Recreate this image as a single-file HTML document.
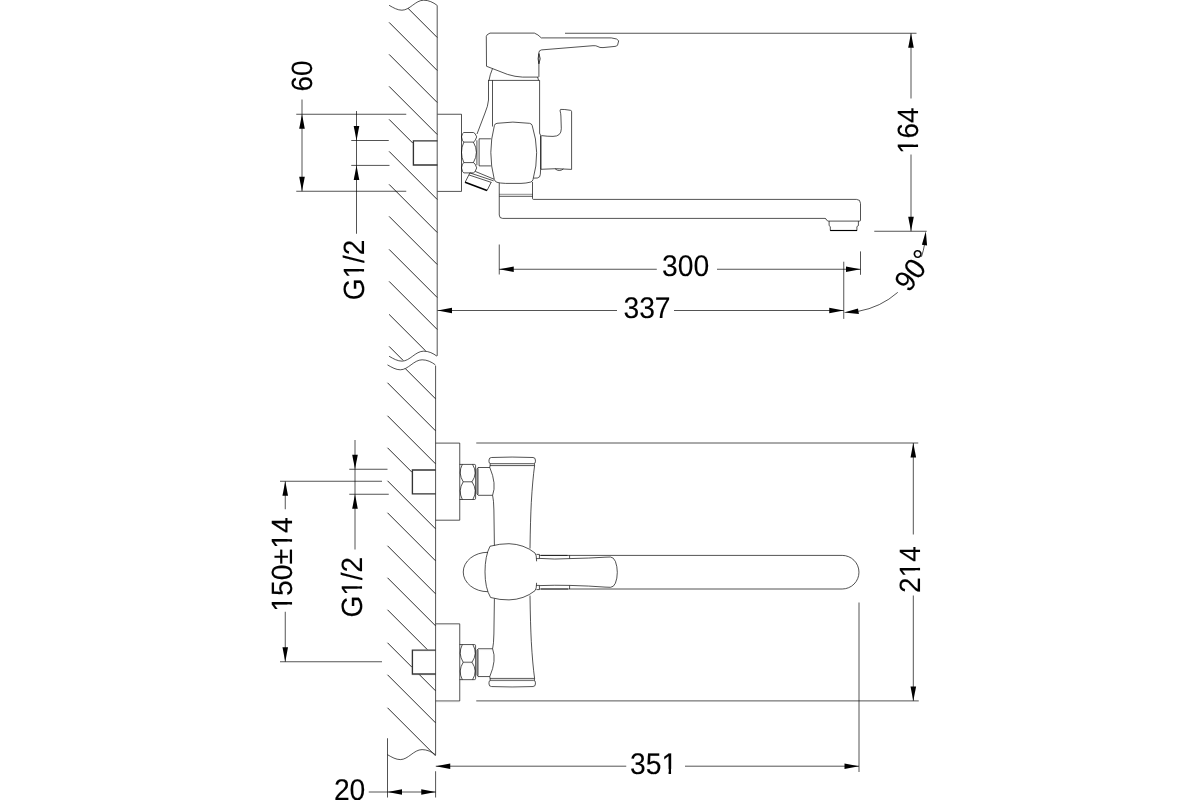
<!DOCTYPE html>
<html lang="en">
<head>
<meta charset="utf-8">
<title>Wall-mounted mixer tap – dimensional drawing</title>
<style>
html,body{margin:0;padding:0;background:#fff;}
body{width:1200px;height:800px;overflow:hidden;}
svg{display:block;}
.l,.l1,.l2,.l3,.h{fill:none;stroke:#000;stroke-width:.68;stroke-linecap:butt;stroke-linejoin:round;}
.h{stroke-width:.95;stroke:#222;}
.l1{stroke-width:.45;}
.l2{stroke-width:1.15;}
.st{fill:none;stroke:#333;stroke-width:1.35;stroke-linejoin:miter;}
.l3{stroke-width:1.6;}
.a{fill:#000;stroke:none;}
text{font-family:"Liberation Sans",sans-serif;font-size:28.7px;fill:#000;stroke:#000;stroke-width:.12px;text-rendering:geometricPrecision;}
.m{fill:#fff;stroke:none;}
</style>
</head>
<body>
<svg width="1200" height="800" viewBox="0 0 1200 800">
<rect width="1200" height="800" fill="#fff"/>
<g id="wall">
<path class="l" d="M389.1,5.3 c4.5,2.6 8.5,4.9 12.8,4.9 c8,0 13.5,-10 21.8,-10 c5,0 9.5,2.2 13.2,5"/>
<path class="l" d="M389.1,356.25 c4.5,2.6 8.5,4.9 12.8,4.9 c8,0 13.5,-10 21.8,-10 c5,0 9.5,2.2 13.2,5"/>
<path class="l" d="M387.5,364.9 c4.5,2.6 8.5,4.9 12.8,4.9 c8,0 13.5,-10 21.8,-10 c5,0 9.5,2.2 13.2,5"/>
<path class="l" d="M387.5,754.7 c4.5,2.6 8.5,4.9 12.8,4.9 c8,0 13.5,-10 21.8,-10 c5,0 9.5,2.2 13.2,5"/>
<line class="l" x1="437.2" y1="5.3" x2="437.2" y2="355.9"/>
<line class="l" x1="435.6" y1="365.6" x2="435.6" y2="755"/>
<line class="l" x1="435.6" y1="771.25" x2="435.6" y2="797.5"/>
<line class="l" x1="387.5" y1="738.25" x2="387.5" y2="797.5"/>
</g>
<g id="hatch">
<line class="h" x1="407.8" y1="8.08" x2="437.2" y2="37.48"/>
<line class="h" x1="389.1" y1="22.38" x2="437.2" y2="70.48"/>
<line class="h" x1="389.1" y1="54.38" x2="437.2" y2="102.48"/>
<line class="h" x1="389.1" y1="86.38" x2="437.2" y2="134.48"/>
<line class="h" x1="389.1" y1="119.38" x2="412.8" y2="143.08"/>
<line class="h" x1="389.1" y1="151.38" x2="437.2" y2="199.48"/>
<line class="h" x1="389.1" y1="184.38" x2="437.2" y2="232.48"/>
<line class="h" x1="389.1" y1="216.38" x2="437.2" y2="264.48"/>
<line class="h" x1="389.1" y1="249.38" x2="437.2" y2="297.48"/>
<line class="h" x1="389.1" y1="281.38" x2="437.2" y2="329.48"/>
<line class="h" x1="389.1" y1="314.38" x2="425.75" y2="351.03"/>
<line class="h" x1="389.1" y1="346.38" x2="403.1" y2="360.38"/>
<line class="h" x1="405.3" y1="368.58" x2="435.6" y2="398.88"/>
<line class="h" x1="387.5" y1="382.78" x2="435.6" y2="430.88"/>
<line class="h" x1="387.5" y1="415.78" x2="435.6" y2="463.88"/>
<line class="h" x1="387.5" y1="447.78" x2="412" y2="472.28"/>
<line class="h" x1="387.5" y1="480.78" x2="435.6" y2="528.88"/>
<line class="h" x1="387.5" y1="512.78" x2="435.6" y2="560.88"/>
<line class="h" x1="387.5" y1="545.78" x2="435.6" y2="593.88"/>
<line class="h" x1="387.5" y1="577.78" x2="435.6" y2="625.88"/>
<line class="h" x1="387.5" y1="609.78" x2="427.25" y2="649.53"/>
<line class="h" x1="387.5" y1="642.78" x2="412" y2="667.28"/>
<line class="h" x1="419.05" y1="674.33" x2="435.6" y2="690.88"/>
<line class="h" x1="387.5" y1="674.78" x2="435.6" y2="722.88"/>
<line class="h" x1="387.5" y1="707.78" x2="435.6" y2="755.88"/>
</g>
<g id="dims" style="opacity:.999">
<line class="l" x1="296.25" y1="114.25" x2="406.25" y2="114.25"/>
<line class="l" x1="296.25" y1="191.25" x2="406.25" y2="191.25"/>
<line class="l" x1="302" y1="99.5" x2="302" y2="191.25"/>
<polygon class="a" points="302,114.25 299.2,128.75 304.8,128.75"/>
<polygon class="a" points="302,191.25 299.2,176.75 304.8,176.75"/>
<text text-anchor="middle" transform="translate(312.2 75.9) rotate(-90) scale(0.975 1.022)">60</text>
<line class="l" x1="351.25" y1="140.5" x2="388.75" y2="140.5"/>
<line class="l" x1="351.25" y1="165.4" x2="389.5" y2="165.4"/>
<line class="l" x1="356.5" y1="111" x2="356.5" y2="233.75"/>
<polygon class="a" points="356.5,140.5 353.7,126 359.3,126"/>
<polygon class="a" points="356.5,165.4 353.7,179.9 359.3,179.9"/>
<g transform="translate(363.5 270) rotate(-90) scale(0.975 1.022)"><text text-anchor="middle">G1/2</text><rect class="m" x="-7.95" y="-4.62" width="6.38" height="6.03"/><rect class="m" x="0.97" y="-4.62" width="5.94" height="6.03"/></g>
<line class="l" x1="565" y1="33.25" x2="916.5" y2="33.25"/>
<line class="l" x1="874.25" y1="231.25" x2="926.75" y2="231.25"/>
<line class="l" x1="911" y1="33.25" x2="911" y2="98.5"/>
<line class="l" x1="911" y1="154.5" x2="911" y2="231.25"/>
<polygon class="a" points="911,33.25 908.2,47.75 913.8,47.75"/>
<polygon class="a" points="911,231.25 908.2,216.75 913.8,216.75"/>
<g transform="translate(918.2 130.7) rotate(-90) scale(0.975 1.022)"><text text-anchor="middle">164</text><rect class="m" x="-23.10" y="-4.62" width="6.38" height="6.03"/><rect class="m" x="-14.19" y="-4.62" width="5.94" height="6.03"/></g>
<line class="l" x1="499.25" y1="244.5" x2="499.25" y2="274.5"/>
<line class="l" x1="860.5" y1="251.4" x2="860.5" y2="274.8"/>
<line class="l" x1="499.25" y1="269.25" x2="656.8" y2="269.25"/>
<line class="l" x1="717" y1="269.25" x2="860.5" y2="269.25"/>
<polygon class="a" points="499.25,269.25 513.75,266.45 513.75,272.05"/>
<polygon class="a" points="860.5,269.25 846,266.45 846,272.05"/>
<text text-anchor="middle" transform="translate(685.6 276.25) scale(0.985 1.042)">300</text>
<line class="l" x1="843.75" y1="261.7" x2="843.75" y2="318.9"/>
<line class="l" x1="437.5" y1="310.5" x2="617" y2="310.5"/>
<line class="l" x1="674" y1="310.5" x2="843.75" y2="310.5"/>
<polygon class="a" points="437.5,310.5 452,307.7 452,313.3"/>
<polygon class="a" points="843.75,310.5 829.25,307.7 829.25,313.3"/>
<text text-anchor="middle" transform="translate(647 317.5) scale(0.985 1.042)">337</text>
<path class="l" d="M924.69,243.60 A81.8,81.8 0 0 1 921.47,256.76"/>
<path class="l" d="M897.78,292.35 A81.8,81.8 0 0 1 858.10,311.36"/>
<polygon class="a" points="925.8,231.3 921.9,244.7 927.1,245.6"/>
<polygon class="a" points="843.9,312.5 858,308.6 858.9,314"/>
<text text-anchor="middle" transform="translate(921.5 276.3) rotate(-53.5) scale(0.975 1.022)">90°</text>
<line class="l" x1="349.25" y1="469.25" x2="387.5" y2="469.25"/>
<line class="l" x1="349.25" y1="494.25" x2="388.75" y2="494.25"/>
<line class="l" x1="355" y1="440" x2="355" y2="549.5"/>
<polygon class="a" points="355,469.25 352.2,454.75 357.8,454.75"/>
<polygon class="a" points="355,494.25 352.2,508.75 357.8,508.75"/>
<g transform="translate(362.1 587.2) rotate(-90) scale(0.975 1.022)"><text text-anchor="middle">G1/2</text><rect class="m" x="-7.95" y="-4.62" width="6.38" height="6.03"/><rect class="m" x="0.97" y="-4.62" width="5.94" height="6.03"/></g>
<line class="l" x1="280" y1="481.25" x2="382" y2="481.25"/>
<line class="l" x1="280" y1="661.75" x2="382" y2="661.75"/>
<line class="l" x1="285.25" y1="481.25" x2="285.25" y2="509.25"/>
<line class="l" x1="285.25" y1="611.75" x2="285.25" y2="661.75"/>
<polygon class="a" points="285.25,481.25 282.45,495.75 288.05,495.75"/>
<polygon class="a" points="285.25,661.75 282.45,647.25 288.05,647.25"/>
<g transform="translate(292.1 564.5) rotate(-90) scale(0.988 1.022)"><text text-anchor="middle">150±14</text><rect class="m" x="-46.94" y="-4.62" width="6.38" height="6.03"/><rect class="m" x="-38.03" y="-4.62" width="5.94" height="6.03"/><rect class="m" x="16.70" y="-4.62" width="6.38" height="6.03"/><rect class="m" x="25.61" y="-4.62" width="5.94" height="6.03"/></g>
<line class="l" x1="476.25" y1="443" x2="918.25" y2="443"/>
<line class="l" x1="476.25" y1="700.9" x2="918.75" y2="700.9"/>
<line class="l" x1="913.3" y1="443" x2="913.3" y2="534.5"/>
<line class="l" x1="913.3" y1="595.5" x2="913.3" y2="700.9"/>
<polygon class="a" points="913.3,443 910.5,457.5 916.1,457.5"/>
<polygon class="a" points="913.3,700.9 910.5,686.4 916.1,686.4"/>
<g transform="translate(920 569.6) rotate(-90) scale(0.975 1.022)"><text text-anchor="middle">214</text><rect class="m" x="-7.14" y="-4.62" width="6.38" height="6.03"/><rect class="m" x="1.77" y="-4.62" width="5.94" height="6.03"/></g>
<line class="l" x1="859" y1="602.5" x2="859" y2="772"/>
<line class="l" x1="435.75" y1="766.2" x2="626.25" y2="766.2"/>
<line class="l" x1="685" y1="766.2" x2="859" y2="766.2"/>
<polygon class="a" points="435.75,766.2 450.25,763.4 450.25,769"/>
<polygon class="a" points="859,766.2 844.5,763.4 844.5,769"/>
<g transform="translate(653.6 773.7) scale(0.985 1.042)"><text text-anchor="middle">351</text><rect class="m" x="8.82" y="-4.62" width="6.38" height="6.03"/><rect class="m" x="17.73" y="-4.62" width="5.94" height="6.03"/></g>
<line class="l" x1="368.75" y1="792" x2="435.75" y2="792"/>
<polygon class="a" points="387.5,792 402,789.2 402,794.8"/>
<polygon class="a" points="435.75,792 421.25,789.2 421.25,794.8"/>
<text text-anchor="middle" transform="translate(349.6 799.6) scale(0.985 1.042)">20</text>
</g>
<g id="side">
<path class="l" d="M437.5,114.25 H461.5 V191.4 H437.5"/>
<path class="st" d="M437.5,140.9 H413.4 V165 H437.5"/>
<path class="l" d="M486.3,36.4 Q486.3,34.6 490,33.1 H534.4 Q538,34.4 541.3,37.9 H611.3 Q618,38.6 618.7,40.8 L617.6,45 Q617,46.3 615,46.4 L603,47.6 Q599.5,47.8 598,46.6 Q596,45.4 593,45.7 L541.5,49.9 Q538.9,50.4 538.9,52.5 V76.9"/>
<path class="l" d="M486.3,36.4 L486.5,66.25 L507.5,74.4 Q515,76.8 522.5,77.1 H538.5"/>
<path class="l" d="M538.9,53.6 Q541.6,58.7 538.9,63.8 Q537.2,58.7 538.9,53.6"/>
<path class="l" d="M492.5,68.6 Q489.8,75 489,80.4"/>
<path class="l" d="M537.6,77.1 L538.6,80.4"/>
<path class="l" d="M488.1,80.4 H539.7"/>
<path class="l" d="M488.5,80.4 V100 Q488,106 485,113 L477,134"/>
<path class="l" d="M492.5,80.4 V126.5"/>
<path class="l" d="M539.6,80.4 V133 Q539.7,135 541.2,135.5 M540.6,169.2 Q540.6,175.5 539.6,176.8 Q538,178.6 533.6,178.1"/>
<path class="l" d="M494.4,125.5 Q494.8,123.6 497,123.3 Q512.5,120.9 529.5,123.3 Q531.7,123.6 532.2,125.5 Q540.7,152.5 533,179.6 Q532.5,181.6 530.6,182.1 Q526,183.3 521,183.4 H505.6 Q500,183.2 497,182.3 Q494.9,181.6 494.3,179.5 Q487.3,152.5 494.4,125.5 Z"/>
<path class="l" d="M463.8,132.5 H473.4 Q475.2,132.7 476.7,136.9 Q475.2,141.6 473.4,142.1 H463.8 Q462.4,141.6 461.5,136.9 Q462.4,132.7 463.8,132.5 Z"/>
<path class="l" d="M463.8,142.1 Q459.2,152.3 463.8,162.6 M473.4,142.1 Q479.4,152.3 473.4,162.6"/>
<path class="l" d="M463.8,162.6 H473.4 Q475.2,163 476.7,167.9 Q475.2,172.5 473.4,172.9 H463.8 Q462.4,172.5 461.5,167.9 Q462.4,163 463.8,162.6 Z"/>
<path class="l" d="M476.9,140.3 V165.2 M479.1,138.8 V165.9 M479.1,138.8 H490.9 M479.1,165.9 H490.9"/>
<path class="l" d="M475.2,171.4 L494,179.2 M469.9,172.9 L493.6,180.8 M469.1,175 L491.4,182.4"/>
<path class="l" d="M469.9,172.9 L465.1,182.3 M487,190.6 L491.2,182.2"/>
<path class="l3" d="M465.1,182.3 L487,190.6"/>
<path class="l" d="M532.5,182 V198.4 M499.25,196.3 H532.5"/>
<path class="l1" d="M499.25,194.3 H532.5"/>
<path class="l" d="M532.5,198.4 Q532.5,199.4 533.5,199.4 H856.5 Q860.5,199.4 860.5,203.4 V220.1 Q860.5,221.1 859.5,221.1 H828.6 Q827.2,221.1 826.6,220 Q826.2,218.5 825,218.4 H502.6 Q499.25,218.4 499.25,215 V183"/>
<path class="l" d="M829.1,221.1 V225.6 L830.3,226.6 V230.4 M858.4,221.1 V225.6 L856.9,226.6 V230.4"/>
<path class="l2" d="M830.1,230.5 H857.1"/>
<path class="l" d="M560.6,109.4 Q564,109.2 570.4,110.3 Q571.6,110.5 571.6,111.6 V169.4 Q556,168 540.8,169.3 M560.6,109.4 Q560,109.6 560.1,111 Q560.8,113 560.9,116 L561.3,128.75 Q561.3,136.4 553,136.4 Q547,136.4 541.6,135.6"/>
<path class="l2" d="M540.8,135.4 V169.2"/>
<path class="l" d="M555.2,168.9 Q559.3,172.2 563.4,168.9"/>
</g>
<g id="top">
<g>
<path class="l" d="M435.75,443.1 H459.75 V520.2 H435.75"/>
<path class="st" d="M435.75,470 H412.4 V493.9 H435.75"/>
<path class="l" d="M489,460 Q489,457.6 491.5,457.5 Q512,456.6 533,457.5 Q535.4,457.6 535.4,460 V461.8 Q535.4,463.6 533.6,463.7 H490.8 Q489,463.6 489,461.8 Z"/>
<path class="l" d="M490,465.6 H534.6 M490.3,463.7 L490,465.6 M534.3,463.7 L534.6,465.6"/>
<path class="l" d="M492.6,495.3 Q493.7,500 493.9,510 L494.4,545.5"/>
<path class="l" d="M534.6,465.6 Q532.6,480 531.3,502.5 Q530.4,520 530,548.5"/>
<path class="l" d="M459.6,464.4 H474.4 Q475.6,464.4 475.6,465.6 V498.3 Q475.6,499.5 474.4,499.5 H459.6"/>
<path class="l" d="M462.3,464.5 Q457.7,473 463.2,481.8 H472 Q478,473 472.6,464.5 M463.2,481.8 Q457.7,490.6 462.3,499.4 M472,481.8 Q478,490.6 472.9,499.4"/>
<path class="l" d="M477,469 L478,467.5 H489.8 Q496.8,484 492.6,495.3 H478.2 L477,494 Z M478,468.3 V494.6 M490,465.6 L489.8,467.5"/>
</g>
<g transform="matrix(1 0 0 -1 0 1144.1)">
<path class="l" d="M435.75,443.1 H459.75 V520.2 H435.75"/>
<path class="st" d="M435.75,470 H412.4 V493.9 H435.75"/>
<path class="l" d="M489,460 Q489,457.6 491.5,457.5 Q512,456.6 533,457.5 Q535.4,457.6 535.4,460 V461.8 Q535.4,463.6 533.6,463.7 H490.8 Q489,463.6 489,461.8 Z"/>
<path class="l" d="M490,465.6 H534.6 M490.3,463.7 L490,465.6 M534.3,463.7 L534.6,465.6"/>
<path class="l" d="M492.6,495.3 Q493.7,500 493.9,510 L494.4,545.5"/>
<path class="l" d="M534.6,465.6 Q532.6,480 531.3,502.5 Q530.4,520 530,548.5"/>
<path class="l" d="M459.6,464.4 H474.4 Q475.6,464.4 475.6,465.6 V498.3 Q475.6,499.5 474.4,499.5 H459.6"/>
<path class="l" d="M462.3,464.5 Q457.7,473 463.2,481.8 H472 Q478,473 472.6,464.5 M463.2,481.8 Q457.7,490.6 462.3,499.4 M472,481.8 Q478,490.6 472.9,499.4"/>
<path class="l" d="M477,469 L478,467.5 H489.8 Q496.8,484 492.6,495.3 H478.2 L477,494 Z M478,468.3 V494.6 M490,465.6 L489.8,467.5"/>
</g>
<path class="l" d="M490,546.25 Q500,543.6 509,543.7 Q524,544.2 535,553 Q536.6,554.6 536.6,561.3 M490,546.25 Q485,556 485,571.9 Q485,588 490.6,597.5 M490.6,597.5 Q500,600.1 509,599.9 Q524,599.5 535,590.7 Q536.6,589 536.6,582.8"/>
<path class="l" d="M487.8,552.3 A24.55,19.7 0 0 0 487.8,591.7"/>
<path class="l" d="M539.4,555.4 H842.2 A16.8,16.8 0 0 1 842.2,589 H539.4"/>
<path class="l" d="M536.4,554.4 H539.4 V558.6 H536.4 M536.4,585.4 H539.4 V589.6 H536.4"/>
<path class="l" d="M539.4,558.4 Q555,559.6 569.6,558.6 Q590,558.2 605,557.2 L610.5,557 Q613.6,557.2 615.4,561.4 Q617.3,566.5 617.3,572.3 Q617.3,578.5 615.4,583.2 Q613.6,587.3 610.5,587.3 L605,587.1 Q590,585.9 569.6,585.4 Q555,585 539.4,585.6 M569.6,555.4 V558.6 M569.6,585.4 V589"/>
<path class="l" d="M541,555.4 H567.5 M541,589 H568"/>
</g>
</svg>
</body>
</html>
